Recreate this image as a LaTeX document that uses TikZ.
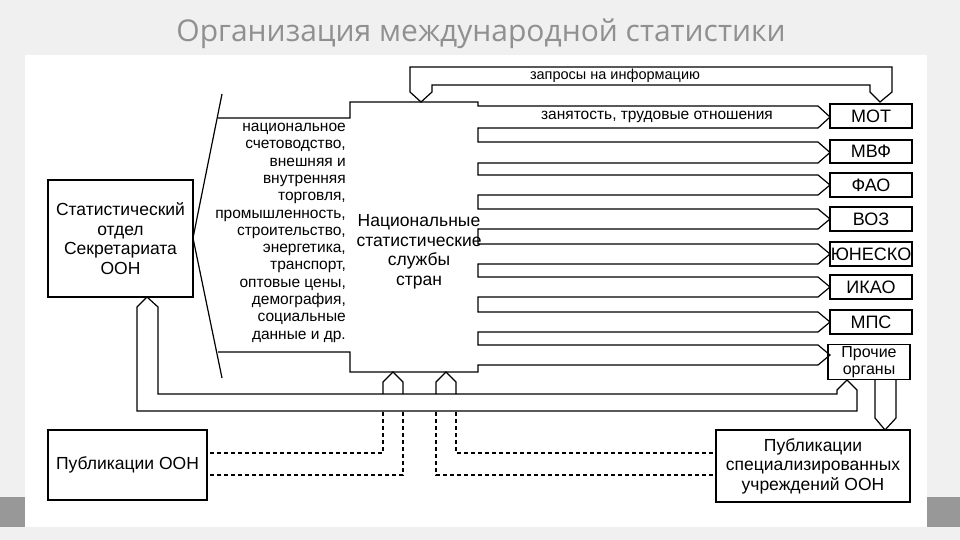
\documentclass[tikz,border=0pt]{standalone}
\usepackage{fontspec}
\setmainfont{Liberation Sans}
\newfontfamily\titlefont{Open Sans}
\begin{document}
\begin{tikzpicture}[x=1pt,y=-1pt,
  ln/.style={line width=1.2pt,black},
  box/.style={draw,line width=1.2pt,fill=white,inner sep=0pt},
  dsh/.style={line width=1.2pt,dash pattern=on 4pt off 3pt},
  txt/.style={font=\fontsize{17.5}{19.5}\selectfont,align=center},
  org/.style={font=\fontsize{18}{19}\selectfont}]
\useasboundingbox (0,0) rectangle (960,540);
\fill[gray!12] (0,0) rectangle (960,540);
\fill[gray!85!black!70] (0,497) rectangle (960,527);
\fill[white] (25,55) rectangle (927,527);
\node[font=\titlefont\fontsize{30}{32}\selectfont,text=gray!75!black!70] (title) at (481,34) {Организация международной статистики};
% left boxes
\node[box,minimum width=145pt,minimum height=117pt,txt] (stat) at (120.5,238.5) {Статистический\\отдел\\Секретариата\\ООН};
\node[box,minimum width=159pt,minimum height=70pt,txt] (pubo) at (127.5,465) {Публикации ООН};
\node[box,minimum width=194pt,minimum height=72pt,txt] (pubs) at (813,466) {Публикации\\специализированных\\учреждений ООН};
% org boxes
\foreach \n/\t/\y/\h in {mot/МОТ/116/24, mvf/МВФ/151.5/23, fao/ФАО/185/24, voz/ВОЗ/219/24, un/ЮНЕСКО/254/24, ikao/ИКАО/287/24, mps/МПС/322/24}
  \node[box,minimum width=82pt,minimum height=\h pt,org] (\n) at (871,\y) {\t};
\node[box,minimum width=82pt,minimum height=35pt,font=\fontsize{16}{17}\selectfont,align=center] (pro) at (869,362) {Прочие\\органы};
% national box outline with bands
\draw[ln] (218,118) -- (350,118) -- (350,102) -- (478,102) -- (478,106)
 \foreach \t/\b in {106/128,142/163,175/195,209/229,244/264,277/297,312/332,345/365}{
   -- (478,\t) -- (818,\t) -- (830,{(\t+\b)/2}) -- (818,\b) -- (478,\b) }
 -- (478,372) -- (350,372) -- (350,352) -- (218,352);
\node[txt] (nat) at (419,252) {Национальные\\статистические\\службы\\стран};
\node[font=\fontsize{15.5}{17.3}\selectfont,align=right,anchor=north east,inner sep=0pt] (list) at (346,123) {национальное\\счетоводство,\\внешняя и\\внутренняя\\торговля,\\промышленность,\\строительство,\\энергетика,\\транспорт,\\оптовые цены,\\демография,\\социальные\\данные и др.};
\node[font=\fontsize{15.5}{17}\selectfont] (emp) at (657,117) {занятость, трудовые отношения};
% bracket
\coordinate (br) at (193,238);
\draw[ln] (222,94) -- (br) -- (222,378);
% requests
\draw[ln] (410,92) -- (410,67) -- (892,67) -- (892,92) -- (880,102) -- (870,92) -- (870,85) -- (432,85) -- (432,92) -- (421,102) -- cycle;
\node[font=\fontsize{14.5}{16}\selectfont,inner sep=0pt] (req) at (615,76) {запросы на информацию};
% bottom return band
\draw[ln] (137,307) -- (137,411) -- (857,411) -- (857,390) -- (847,380) -- (837,390) -- (837,394) -- (158,394) -- (158,307) -- (147,297) -- cycle;
% national up arrows
\foreach \x in {383,436}
  \draw[ln] (\x,394) -- (\x,382) -- (\x+10,372) -- (\x+20,382) -- (\x+20,394);
% down arrow
\draw[ln] (875,380) -- (875,418) -- (885,430) -- (896,418) -- (896,380);
% dashed
\draw[dsh] (383,412) -- (383,453) -- (pubo.east |- 0,453);
\draw[dsh] (403,412) -- (403,475) -- (pubo.east |- 0,475);
\draw[dsh] (456,412) -- (456,453) -- (pubs.west |- 0,453);
\draw[dsh] (436,412) -- (436,475) -- (pubs.west |- 0,475);
\end{tikzpicture}
\end{document}
